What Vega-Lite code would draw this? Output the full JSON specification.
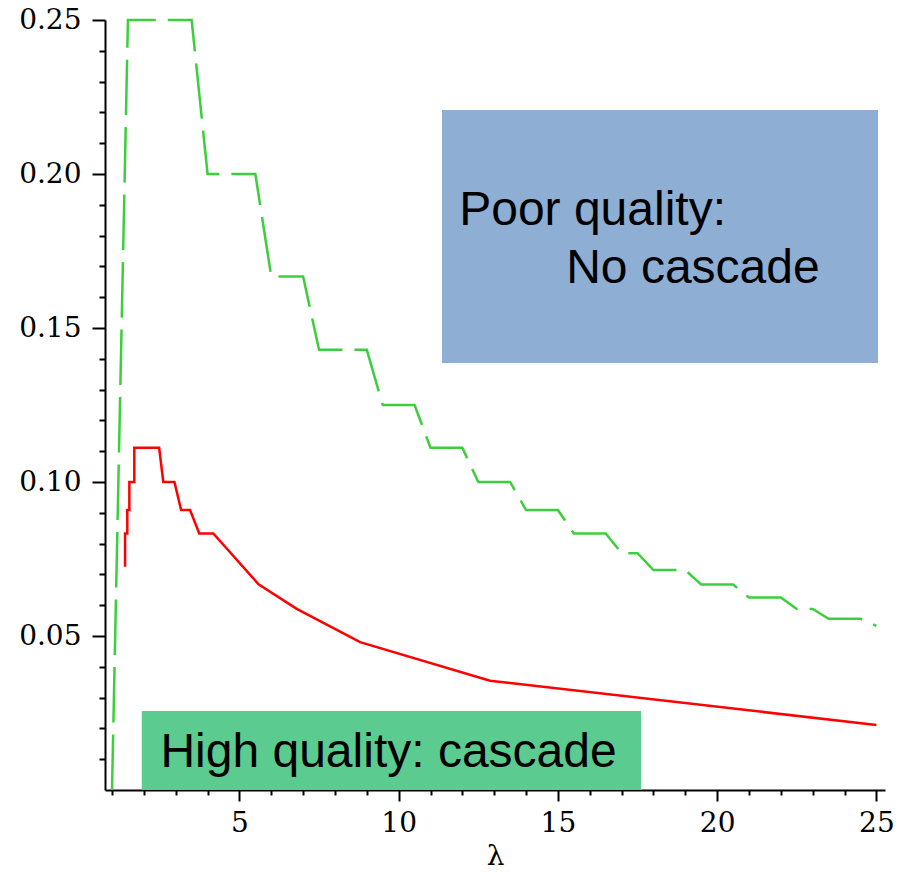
{
  "$schema": "https://vega.github.io/schema/vega-lite/v6.json",
  "width": 780,
  "height": 770,
  "autosize": {"type": "none"},
  "padding": {"left": 105, "top": 20, "right": 20, "bottom": 82},
  "background": "#ffffff",
  "config": {"view": {"stroke": null}},
  "datasets": {
    "boxes": [
      {"box": "Poor quality", "lam": 11.36, "lam2": 25.05, "val": 0.2208, "val2": 0.1386},
      {"box": "High quality", "lam": 1.934, "lam2": 17.61, "val": 0, "val2": 0.02565}
    ],
    "labels": [
      {"label": "Poor quality:", "lam": 11.9, "val": 0.1834},
      {"label": "No cascade", "lam": 15.26, "val": 0.1646},
      {"label": "High quality: cascade", "lam": 2.52, "val": 0.0075}
    ],
    "curves": [
      {"series": "poor", "i": 0, "lam": 1.0, "val": 0},
      {"series": "poor", "i": 1, "lam": 1.5, "val": 0.25},
      {"series": "poor", "i": 2, "lam": 3.5, "val": 0.25},
      {"series": "poor", "i": 3, "lam": 4.0, "val": 0.2},
      {"series": "poor", "i": 4, "lam": 5.5, "val": 0.2},
      {"series": "poor", "i": 5, "lam": 6.0, "val": 0.1667},
      {"series": "poor", "i": 6, "lam": 7.0, "val": 0.1667},
      {"series": "poor", "i": 7, "lam": 7.5, "val": 0.1429},
      {"series": "poor", "i": 8, "lam": 9.0, "val": 0.1429},
      {"series": "poor", "i": 9, "lam": 9.5, "val": 0.125},
      {"series": "poor", "i": 10, "lam": 10.5, "val": 0.125},
      {"series": "poor", "i": 11, "lam": 11.0, "val": 0.1111},
      {"series": "poor", "i": 12, "lam": 12.0, "val": 0.1111},
      {"series": "poor", "i": 13, "lam": 12.5, "val": 0.1},
      {"series": "poor", "i": 14, "lam": 13.5, "val": 0.1},
      {"series": "poor", "i": 15, "lam": 14.0, "val": 0.0909},
      {"series": "poor", "i": 16, "lam": 15.0, "val": 0.0909},
      {"series": "poor", "i": 17, "lam": 15.5, "val": 0.0833},
      {"series": "poor", "i": 18, "lam": 16.5, "val": 0.0833},
      {"series": "poor", "i": 19, "lam": 17.0, "val": 0.0769},
      {"series": "poor", "i": 20, "lam": 17.5, "val": 0.0769},
      {"series": "poor", "i": 21, "lam": 18.0, "val": 0.0714},
      {"series": "poor", "i": 22, "lam": 19.0, "val": 0.0714},
      {"series": "poor", "i": 23, "lam": 19.5, "val": 0.0667},
      {"series": "poor", "i": 24, "lam": 20.5, "val": 0.0667},
      {"series": "poor", "i": 25, "lam": 21.0, "val": 0.0625},
      {"series": "poor", "i": 26, "lam": 22.0, "val": 0.0625},
      {"series": "poor", "i": 27, "lam": 22.5, "val": 0.0588},
      {"series": "poor", "i": 28, "lam": 23.0, "val": 0.0588},
      {"series": "poor", "i": 29, "lam": 23.5, "val": 0.0556},
      {"series": "poor", "i": 30, "lam": 24.5, "val": 0.0556},
      {"series": "poor", "i": 31, "lam": 25.0, "val": 0.0533},
      {"series": "high", "i": 0, "lam": 1.41, "val": 0.0725},
      {"series": "high", "i": 1, "lam": 1.41, "val": 0.0833},
      {"series": "high", "i": 2, "lam": 1.48, "val": 0.0833},
      {"series": "high", "i": 3, "lam": 1.48, "val": 0.0909},
      {"series": "high", "i": 4, "lam": 1.545, "val": 0.0909},
      {"series": "high", "i": 5, "lam": 1.545, "val": 0.1},
      {"series": "high", "i": 6, "lam": 1.7, "val": 0.1},
      {"series": "high", "i": 7, "lam": 1.7, "val": 0.1111},
      {"series": "high", "i": 8, "lam": 2.48, "val": 0.1111},
      {"series": "high", "i": 9, "lam": 2.61, "val": 0.1},
      {"series": "high", "i": 10, "lam": 2.96, "val": 0.1},
      {"series": "high", "i": 11, "lam": 3.17, "val": 0.0909},
      {"series": "high", "i": 12, "lam": 3.45, "val": 0.0909},
      {"series": "high", "i": 13, "lam": 3.74, "val": 0.0833},
      {"series": "high", "i": 14, "lam": 4.18, "val": 0.0833},
      {"series": "high", "i": 15, "lam": 5.6, "val": 0.0668},
      {"series": "high", "i": 16, "lam": 6.8, "val": 0.0588},
      {"series": "high", "i": 17, "lam": 8.79, "val": 0.048},
      {"series": "high", "i": 18, "lam": 12.87, "val": 0.0355},
      {"series": "high", "i": 19, "lam": 25.0, "val": 0.0211}
    ]
  },
  "encoding": {
    "x": {
      "field": "lam",
      "type": "quantitative",
      "scale": {"domain": [0.78, 25.27], "nice": false, "zero": false},
      "axis": {
        "title": "λ",
        "titleFont": "DejaVu Serif",
        "titleFontSize": 28,
        "titleFontWeight": "normal",
        "titleColor": "#000000",
        "titlePadding": 5,
        "values": [1,2,3,4,5,6,7,8,9,10,11,12,13,14,15,16,17,18,19,20,21,22,23,24,25],
        "labelExpr": "datum.value % 5 == 0 ? datum.label : ''",
        "labelFont": "DejaVu Serif",
        "labelFontSize": 28,
        "labelColor": "#000000",
        "labelPadding": 8,
        "labelFlush": false,
        "labelOverlap": false,
        "tickSize": {"condition": {"test": "datum.value % 5 == 0", "value": 11}, "value": 5},
        "tickColor": "#000000",
        "tickWidth": 2,
        "domainColor": "#000000",
        "domainWidth": 2,
        "grid": false
      }
    },
    "y": {
      "field": "val",
      "type": "quantitative",
      "scale": {"domain": [0, 0.25], "nice": false, "zero": true},
      "axis": {
        "title": null,
        "values": [0.01,0.02,0.03,0.04,0.05,0.06,0.07,0.08,0.09,0.1,0.11,0.12,0.13,0.14,0.15,0.16,0.17,0.18,0.19,0.2,0.21,0.22,0.23,0.24,0.25],
        "labelExpr": "abs(datum.value * 20 - round(datum.value * 20)) < 0.001 ? format(datum.value, '.2f') : ''",
        "labelFont": "DejaVu Serif",
        "labelFontSize": 28,
        "labelColor": "#000000",
        "labelPadding": 11,
        "labelFlush": false,
        "labelOverlap": false,
        "tickSize": {"condition": {"test": "abs(datum.value * 20 - round(datum.value * 20)) < 0.001", "value": 13}, "value": 6},
        "tickColor": "#000000",
        "tickWidth": 2,
        "domainColor": "#000000",
        "domainWidth": 2,
        "grid": false
      }
    }
  },
  "layer": [
    {
      "data": {"name": "boxes"},
      "mark": {"type": "rect"},
      "encoding": {
        "x2": {"field": "lam2"},
        "y2": {"field": "val2"},
        "color": {
          "field": "box",
          "type": "nominal",
          "scale": {"domain": ["Poor quality", "High quality"], "range": ["#8eaed4", "#5bcb8f"]},
          "legend": null
        }
      }
    },
    {
      "data": {"name": "curves"},
      "transform": [{"filter": "datum.series == 'poor'"}],
      "mark": {"type": "line", "color": "#3ccf3c", "strokeWidth": 2.5, "strokeDash": [55.5, 12]},
      "encoding": {"order": {"field": "i", "type": "quantitative"}}
    },
    {
      "data": {"name": "curves"},
      "transform": [{"filter": "datum.series == 'high'"}],
      "mark": {"type": "line", "color": "#ff0000", "strokeWidth": 2.5},
      "encoding": {"order": {"field": "i", "type": "quantitative"}}
    },
    {
      "data": {"name": "labels"},
      "mark": {"type": "text", "align": "left", "baseline": "alphabetic", "font": "Liberation Sans", "fontSize": 48, "color": "#000000"},
      "encoding": {"text": {"field": "label", "type": "nominal"}}
    }
  ]
}
